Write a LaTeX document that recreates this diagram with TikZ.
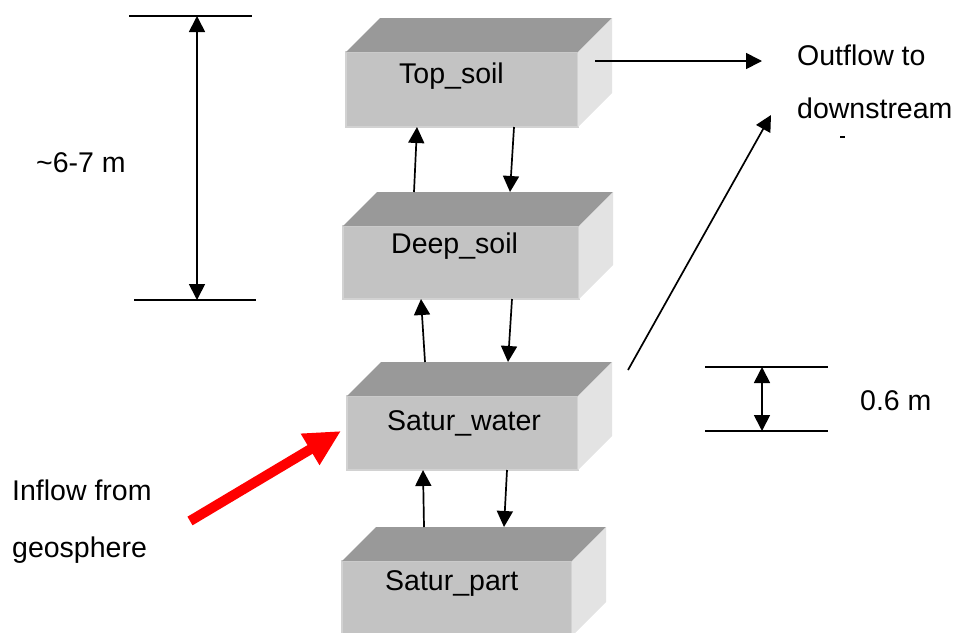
\documentclass[tikz,border=0pt]{standalone}
\usepackage{fontspec}
\setmainfont{Liberation Sans}
\usetikzlibrary{arrows.meta}

\definecolor{facefront}{HTML}{C3C3C3}
\definecolor{facetop}{HTML}{999999}
\definecolor{faceside}{HTML}{E3E3E3}
\definecolor{faceedge}{HTML}{D2D2D2}

% soil compartment: name, left x, top y, width, height of the front face
\newcommand\soilbox[5]{%
  \node[frontface, anchor=north west, minimum width=#4pt, minimum height=#5pt] (#1) at (#2,#3) {};
  \fill[facetop] (#1.north west) -- ([shift={(34,-34)}]#1.north west)
     -- ([shift={(34,-34)}]#1.north east) -- (#1.north east) -- cycle;
  \fill[faceside] (#1.north east) -- ([shift={(34,-34)}]#1.north east)
     -- ([shift={(34,-34)}]#1.south east) -- (#1.south east) -- cycle;
}

\begin{document}
\begin{tikzpicture}[x=1pt, y=-1pt,
  frontface/.style={rectangle, fill=facefront, draw=faceedge, line width=1.2pt, inner sep=0pt, outer sep=0pt},
  lbl/.style={inner sep=0pt, font=\fontsize{28.5}{32}\selectfont},
  arr/.style={line width=1.7pt, -{Triangle[length=16pt, width=16pt]}},
  darr/.style={line width=1.7pt, {Triangle[length=16pt, width=16pt]}-{Triangle[length=16pt, width=16pt]}},
  dimline/.style={line width=1.7pt},
  inflow/.style={draw=red, line width=10pt, -{Triangle[length=36pt, width=34pt]}}]
\useasboundingbox (0,0) rectangle (960,632);
\begin{scope}
\clip (0,0) rectangle (960,632);

% compartments
\soilbox{ts}{346}{52}{232}{75}
\soilbox{ds}{343}{226}{236}{73}
\soilbox{sw}{347}{396}{231}{74}
\soilbox{sp}{342}{561}{230}{75}
\end{scope}

\node[lbl, anchor=base west] (tsl) at (399,83) {Top\_soil};
\node[lbl, anchor=base west] (dsl) at (391,253) {Deep\_soil};
\node[lbl, anchor=base west] (swl) at (387,430) {Satur\_water};
\node[lbl, anchor=base west] (spl) at (385,590) {Satur\_part};

% exchange between compartments
\draw[arr] ([xshift=71pt, yshift=34pt]ds.north west) -- ([xshift=71pt]ts.south west);
\draw[arr] ([xshift=168pt]ts.south west) -- ([xshift=167pt, yshift=34pt]ds.north west);
\draw[arr] ([xshift=78pt, yshift=34pt]sw.north west) -- ([xshift=78pt]ds.south west);
\draw[arr] ([xshift=169pt]ds.south west) -- ([xshift=161pt, yshift=34pt]sw.north west);
\draw[arr] ([xshift=82pt, yshift=34pt]sp.north west) -- ([xshift=76pt]sw.south west);
\draw[arr] ([xshift=160pt]sw.south west) -- ([xshift=162pt, yshift=34pt]sp.north west);

% outflow
\node[lbl, anchor=base west] (out1) at (797,65) {Outflow to};
\node[lbl, anchor=base west] (out2) at (797,118) {downstream};
\draw[line width=1.5pt] (840,137) -- (845,137);
\coordinate (outA) at (595,61);
\coordinate (outB) at (762,61);
\draw[arr] (outA) -- (outB);
\coordinate (outC) at (628,370);
\coordinate (outD) at (771,115);
\draw[arr] (outC) -- (outD);

% inflow
\node[lbl, anchor=base west] (in1) at (12,500) {Inflow from};
\node[lbl, anchor=base west] (in2) at (12,557) {geosphere};
\coordinate (inA) at (190,521);
\coordinate (inB) at (341,431);
\draw[inflow] (inA) -- (inB);

% depth of the soil layers
\coordinate (dTa) at (129,16);
\coordinate (dTb) at (252,16);
\coordinate (dBa) at (134,300);
\coordinate (dBb) at (256,300);
\draw[dimline] (dTa) -- (dTb);
\draw[dimline] (dBa) -- (dBb);
\coordinate (dT) at (197,16);
\coordinate (dB) at (197,300);
\draw[darr] (dT) -- (dB);
\node[lbl, anchor=base west] (dlab) at (36,172) {\textasciitilde 6-7 m};

% thickness of the saturated zone
\coordinate (sTa) at (705,367);
\coordinate (sTb) at (828,367);
\coordinate (sBa) at (705,431);
\coordinate (sBb) at (828,431);
\draw[dimline] (sTa) -- (sTb);
\draw[dimline] (sBa) -- (sBb);
\coordinate (sT) at (762,367);
\coordinate (sB) at (762,431);
\draw[darr] (sT) -- (sB);
\node[lbl, anchor=base west] (slab) at (860,410) {0.6 m};
\end{tikzpicture}
\end{document}
